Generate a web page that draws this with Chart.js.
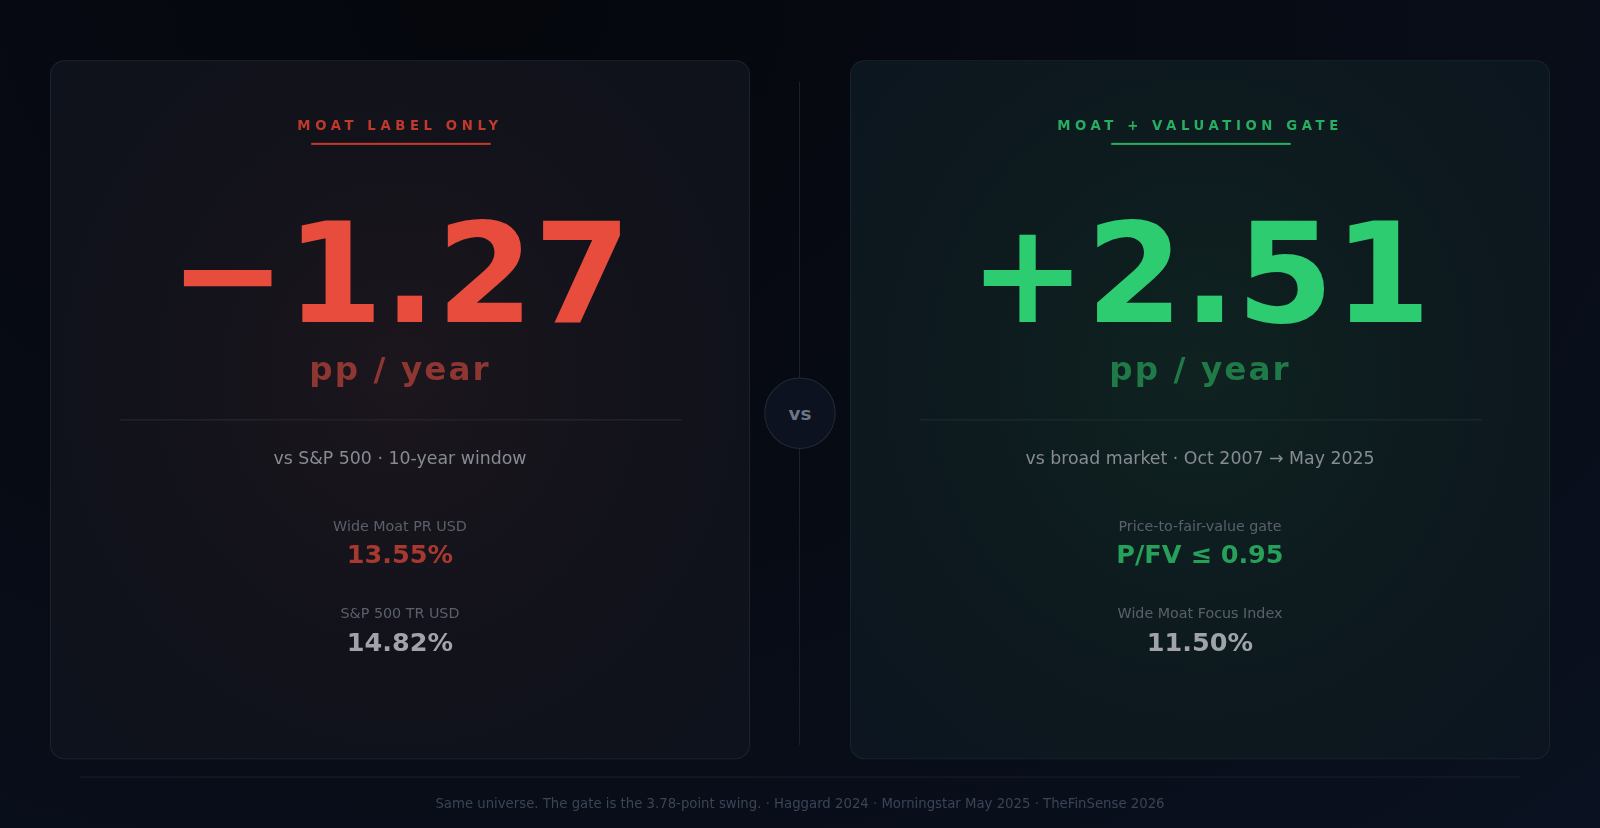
<!DOCTYPE html>
<html><head><meta charset="utf-8">
<script src="https://cdn.jsdelivr.net/npm/chart.js@4"></script>
<style>
html,body{margin:0;width:1600px;height:828px;overflow:hidden;font-family:"DejaVu Sans",sans-serif;}
body{background:radial-gradient(ellipse at 30% 0%,#05070d 0%,#070b14 50%,#0a1120 100%);}
#wrap{position:absolute;left:0;top:0;width:1568px;height:811px;transform:scale(1.0204);transform-origin:0 0;}
.card{position:absolute;top:59px;width:686px;height:685px;border-radius:14px;border:1px solid #1c2431;box-sizing:border-box;}
#L{left:49px;background:radial-gradient(ellipse at 50% 45%,#1c161d 0%,#12121a 50%,#0d121c 100%);}
#R{left:833px;background:radial-gradient(ellipse at 50% 45%,#0f2220 0%,#0d1a1e 50%,#0c1520 100%);border-color:#16262c;}
.t{position:absolute;left:0;width:100%;text-align:center;white-space:nowrap;transform:translateY(-50%);line-height:1;}
.lab{font-size:13px;font-weight:bold;letter-spacing:4.5px;}
.ul{position:absolute;height:1.5px;width:176px;left:255px;top:80px;}
.big{font-size:137px;font-weight:bold;}
.pp{font-size:32px;font-weight:bold;letter-spacing:2px;}
.div{position:absolute;left:68px;width:550px;top:351px;height:1px;background:#262a36;}
.sub{font-size:17px;color:#878b94;}
.sm{font-size:14px;color:#5a606b;}
.val{font-size:25px;font-weight:bold;}
</style></head><body>
<div id="wrap">
<div style="position:absolute;left:783px;top:80px;width:1px;height:650px;background:#1a2230"></div>
<div style="position:absolute;left:749px;top:370px;width:70px;height:70px;border-radius:50%;background:#0c1220;border:1px solid #222a38;box-sizing:border-box;color:#6b7585;font-weight:bold;font-size:18px;display:flex;align-items:center;justify-content:center">vs</div>
<div class="card" id="L"></div>
<div class="card" id="R"></div>
<div style="position:absolute;left:78px;top:761px;width:1412px;height:1px;background:#18202c"></div>
<div id="foot" class="t" style="top:787px;font-size:13px;color:#3a4556"></div>
</div>
<canvas id="c" width="1" height="1" style="position:absolute;left:0;top:0;opacity:0"></canvas>
<script>
const panelLabels=["MOAT LABEL ONLY","MOAT + VALUATION GATE"];
const headlineValues=["\u22121.27","+2.51"];
const units=["pp / year","pp / year"];
const subtitles=["vs S&P 500 \u00b7 10-year window","vs broad market \u00b7 Oct 2007 \u2192 May 2025"];
const metricNames1=["Wide Moat PR USD","Price-to-fair-value gate"];
const metricValues1=["13.55%","P/FV \u2264 0.95"];
const metricNames2=["S&P 500 TR USD","Wide Moat Focus Index"];
const metricValues2=["14.82%","11.50%"];
const footer="Same universe. The gate is the 3.78-point swing. \u00b7 Haggard 2024 \u00b7 Morningstar May 2025 \u00b7 TheFinSense 2026";
const col=[{lab:"#c0392b",big:"#e74c3c",pp:"#8e3631",v1:"#a8392f"},{lab:"#27ae60",big:"#2ecc71",pp:"#1f7a48",v1:"#27a05a"}];
["L","R"].forEach((id,i)=>{
 const c=col[i];
 document.getElementById(id).innerHTML=
 `<div class="t lab" style="top:63px;color:${c.lab}">${panelLabels[i]}</div>
 <div class="ul" style="background:${c.lab}"></div>
 <div class="t big" style="top:208px;color:${c.big}">${headlineValues[i]}</div>
 <div class="t pp" style="top:301px;color:${c.pp}">${units[i]}</div>
 <div class="div"></div>
 <div class="t sub" style="top:389px">${subtitles[i]}</div>
 <div class="t sm" style="top:455px">${metricNames1[i]}</div>
 <div class="t val" style="top:483px;color:${c.v1}">${metricValues1[i]}</div>
 <div class="t sm" style="top:541px">${metricNames2[i]}</div>
 <div class="t val" style="top:569px;color:#a0a3aa">${metricValues2[i]}</div>`;
});
document.getElementById('foot').textContent=footer;
if(window.Chart){new Chart(document.getElementById('c'),{type:'bar',data:{labels:[],datasets:[]},options:{responsive:false,animation:false,plugins:{legend:{display:false}}}});}
</script>
</body></html>
